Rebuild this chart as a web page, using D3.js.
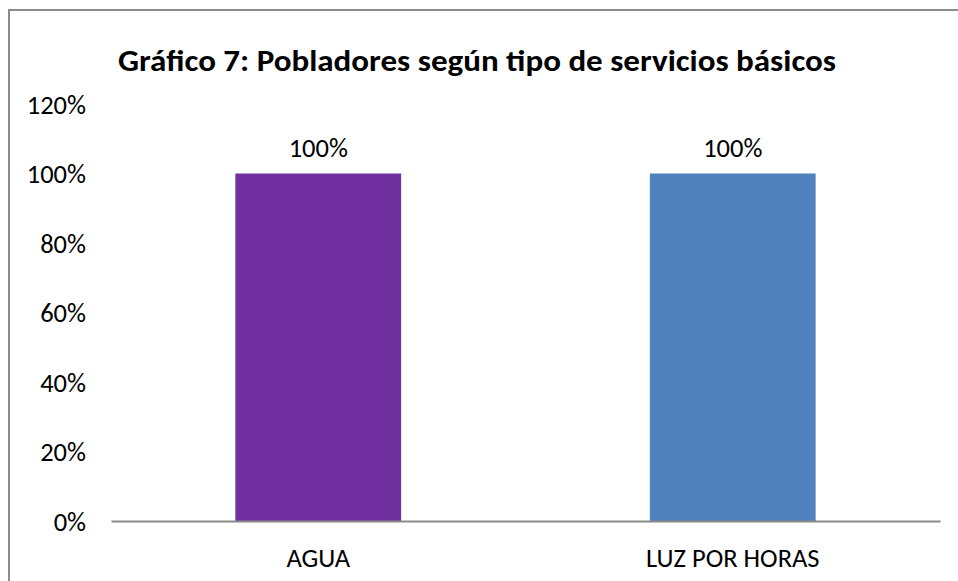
<!DOCTYPE html>
<html>
<head>
<meta charset="utf-8">
<script src="https://cdn.jsdelivr.net/npm/d3@7"></script>
<style>
  body { margin: 0; background: #fff; }
  text { font-family: Carlito, Calibri, "Lato", "Open Sans", sans-serif; fill: #000; }
</style>
</head>
<body>
<div id="chart"></div>
<script>
// chart data
var categories = ["AGUA", "LUZ POR HORAS"];
var values = [1.0, 1.0];
var barColors = ["#7030A0", "#4F81BD"];
var yTicks = [0, 0.2, 0.4, 0.6, 0.8, 1.0, 1.2];
var title = "Gráfico 7: Pobladores según tipo de servicios básicos";

var W = 958, H = 581;
var margin = { top: 104, right: 18, bottom: 60, left: 111 },
    width = W - margin.left - margin.right,
    height = H - margin.top - margin.bottom;

var svg = d3.select("#chart")
  .append("svg")
  .attr("width", W)
  .attr("height", H);

// outer frame (only left and top are inside the picture)
svg.append("path")
  .attr("d", "M9,581 V10 H958")
  .attr("fill", "none")
  .attr("stroke", "#8c8c8c")
  .attr("stroke-width", 2);

svg.append("text")
  .attr("x", 477)
  .attr("y", 71)
  .attr("text-anchor", "middle")
  .attr("textLength", 718)
  .attr("lengthAdjust", "spacingAndGlyphs")
  .style("font-weight", "bold")
  .style("font-size", "31px")
  .text(title);

var g = svg.append("g")
  .attr("transform", "translate(" + margin.left + "," + margin.top + ")");

var x = d3.scaleBand()
  .domain(categories)
  .range([0, width])
  .padding(0);

var y = d3.scaleLinear()
  .domain([0, 1.2])
  .range([height, 0]);

var fmt = d3.format(".0%");

// y axis: labels only
var yAxis = g.append("g")
  .call(d3.axisLeft(y).tickValues(yTicks).tickFormat(fmt).tickSize(0).tickPadding(25));
yAxis.select(".domain").remove();
yAxis.selectAll("text")
  .style("font-size", "26.5px")
  .attr("dy", "0.35em");

// bars
var barW = x.bandwidth() * 0.4;
g.selectAll("rect.bar")
  .data(values)
  .enter()
  .append("rect")
  .attr("class", "bar")
  .attr("x", function(d, i) { return x(categories[i]) + (x.bandwidth() - barW) / 2; })
  .attr("y", function(d) { return y(d); })
  .attr("width", barW)
  .attr("height", function(d) { return height - y(d); })
  .style("fill", function(d, i) { return barColors[i]; });

// value labels
g.selectAll("text.val")
  .data(values)
  .enter()
  .append("text")
  .attr("class", "val")
  .attr("x", function(d, i) { return x(categories[i]) + x.bandwidth() / 2; })
  .attr("y", function(d) { return y(d) - 26; })
  .attr("dy", "0.35em")
  .attr("text-anchor", "middle")
  .style("font-size", "26.5px")
  .text(function(d) { return fmt(d); });

// x axis
var xAxis = g.append("g")
  .attr("transform", "translate(0," + height + ")")
  .call(d3.axisBottom(x).tickSize(0).tickPadding(25));
xAxis.select(".domain")
  .attr("stroke", "#898989")
  .attr("stroke-width", 2);
xAxis.selectAll("text")
  .style("font-size", "26.5px")
  .attr("dy", "0.35em")
  .attr("y", 37);
</script>
</body>
</html>
